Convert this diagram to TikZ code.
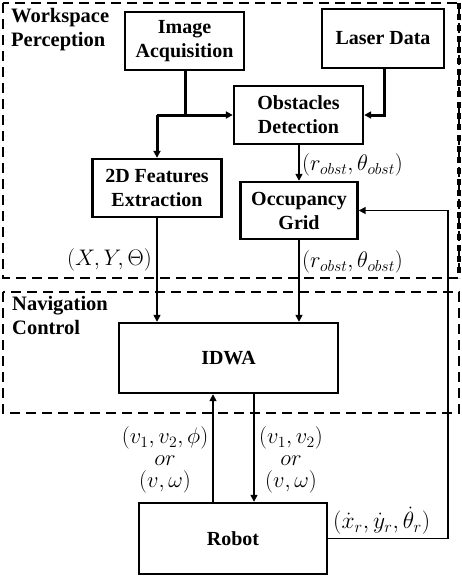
\RequirePackage{fix-cm}
\documentclass[tikz,border=0pt]{standalone}
\usepackage{fontspec}
\setmainfont{Liberation Serif}
\usetikzlibrary{arrows.meta}
\begin{document}
\begin{tikzpicture}[x=1pt,y=-1pt,
  blk/.style={draw,line width=2.4pt,align=center,inner sep=0pt,
    font=\fontsize{20}{24}\selectfont\bfseries},
  grp/.style={draw,line width=2.2pt,dash pattern=on 10pt off 6pt},
  ttl/.style={align=left,anchor=north west,inner sep=0pt,
    font=\fontsize{20.5}{24}\selectfont\bfseries},
  lbl/.style={inner sep=0pt,font=\fontsize{22.5}{22}\selectfont,align=center},
  thk/.style={line width=3pt},
  thn/.style={line width=1.5pt},
  tip/.style={-{Triangle[length=7pt,width=7pt]}}]
\useasboundingbox (0,0) rectangle (462,576);
% group frames
\draw[grp] (3,3) rectangle (459,278);
\draw[line width=4pt,dash pattern=on 6pt off 5pt] (459,3) -- (459,278);
\draw[grp] (3,292) rectangle (459,413);
\node[ttl] (wp) at (11,8) {Workspace\\Perception};
\node[ttl] (nc) at (12,296) {Navigation\\Control};
% blocks
\node[blk,minimum width=119pt,minimum height=58pt] (img) at (184.5,41) {Image\\Acquisition};
\node[blk,minimum width=122pt,minimum height=59pt] (las) at (383,38.5) {Laser Data};
\node[blk,minimum width=129pt,minimum height=58pt] (det) at (298.5,115) {Obstacles\\Detection};
\node[blk,minimum width=129pt,minimum height=58pt] (feat) at (157,188) {2D Features\\Extraction};
\node[blk,minimum width=117pt,minimum height=57pt] (occ) at (299,210.5) {Occupancy\\Grid};
\node[blk,minimum width=219pt,minimum height=70pt] (idwa) at (228.5,358) {IDWA};
\node[blk,minimum width=188pt,minimum height=71pt] (rob) at (233,538.5) {Robot};
% connectors
\coordinate (j1) at (185,115);
\coordinate (j2) at (157,115);
\coordinate (u) at (213,0);
\coordinate (d) at (254,0);
\coordinate (lx) at (384,0);
\coordinate (fx) at (448,538.5);
\draw[thk] (img.south -| j1) -- (j1) -- (j2);
\draw[thk,tip] (j1) -- (det.west);
\draw[thk,tip] (j2) -- (feat.north);
\draw[thk,tip] (las.south -| lx) |- (det.east);
\draw[thn,tip] (det.south -| occ.north) -- (occ.north);
\draw[thn,tip] (feat.south) -- (feat.south |- idwa.north);
\draw[thn,tip] (occ.south) -- (occ.south |- idwa.north);
\draw[thn,tip] (rob.north -| u) -- (idwa.south -| u);
\draw[thn,tip] (idwa.south -| d) -- (rob.north -| d);
\draw[thn,tip] (rob.east) -- (fx) |- (occ.east);
% labels
\node[lbl,anchor=west] (l1) at (302,165) {$(r_{obst},\theta_{obst})$};
\node[lbl,anchor=west] (l2) at (302,262) {$(r_{obst},\theta_{obst})$};
\node[lbl,anchor=east] (l3) at (152,260) {$(X,Y,\Theta)$};
\node[lbl] (l4) at (165,460) {$(v_1,v_2,\phi)$\\$or$\\$(v,\omega)$};
\node[lbl] (l5) at (291,460) {$(v_1,v_2)$\\$or$\\$(v,\omega)$};
\node[lbl,anchor=west,font=\fontsize{23.5}{24}\selectfont] (l6) at (333,521) {$(\dot{x}_r,\dot{y}_r,\dot{\theta}_r)$};
\end{tikzpicture}
\end{document}
